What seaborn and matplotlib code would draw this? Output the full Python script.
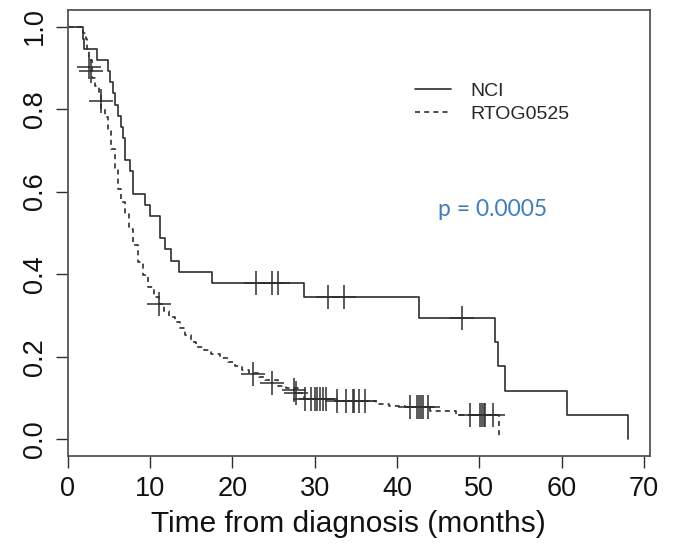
import matplotlib
matplotlib.use("Agg")
import matplotlib.pyplot as plt
import seaborn as sns
import pandas as pd

# Kaplan-Meier steps (time in months, survival)
nci_time = [0, 1.8, 2.0, 3.5, 4.85, 5.15, 5.5, 5.8, 6.15, 6.45, 6.75, 6.95, 7.55, 7.95,
            9.4, 10.0, 11.2, 11.8, 12.6, 13.55, 17.5, 28.7, 42.7, 51.9, 52.2, 53.1, 60.6, 68.0]
nci_surv = [1.0, 0.971, 0.945, 0.919, 0.892, 0.865, 0.838, 0.811, 0.784, 0.757, 0.730, 0.676, 0.649, 0.595,
            0.568, 0.541, 0.487, 0.460, 0.433, 0.406, 0.378, 0.344, 0.294, 0.236, 0.177, 0.118, 0.059, 0.0]
nci_cens_time = [22.9, 24.8, 25.5, 31.6, 33.5, 47.9]
nci_cens_surv = [0.378, 0.378, 0.378, 0.344, 0.344, 0.294]

rtog_time = [0, 1.9, 2.2, 2.4, 2.6, 2.9, 3.3, 3.8, 4.1, 4.5, 4.9, 5.3, 5.7, 6.1, 6.5, 6.9, 7.4,
             7.9, 8.5, 9.1, 9.8, 10.5, 11.1, 11.7, 12.3, 13.0, 13.6, 14.3, 15.0, 15.6, 16.5,
             17.4, 18.5, 19.5, 20.3, 21.2, 22.0, 23.2, 24.0, 25.5, 26.5, 28.0, 28.4, 28.7,
             32.2, 37.5, 39.0, 41.0, 44.0, 47.2, 52.4]
rtog_surv = [1.0, 0.985, 0.97, 0.945, 0.92, 0.875, 0.855, 0.84, 0.80, 0.78, 0.748, 0.704, 0.656,
             0.607, 0.575, 0.545, 0.51, 0.47, 0.43, 0.397, 0.37, 0.345, 0.328, 0.31, 0.295, 0.283,
             0.27, 0.252, 0.235, 0.223, 0.215, 0.207, 0.197, 0.187, 0.178, 0.167, 0.16, 0.15,
             0.143, 0.13, 0.124, 0.112, 0.104, 0.097, 0.092, 0.085, 0.08, 0.078, 0.068, 0.059, 0.0]
rtog_cens_time = [2.6, 2.8, 4.0, 11.1, 22.5, 24.8, 27.5, 27.7,
                  28.8, 29.6, 30.0, 30.3, 30.6, 31.0, 31.4,
                  32.7, 33.75, 34.6, 34.8, 35.4, 36.1,
                  41.6, 42.4, 42.7, 42.9, 43.2, 43.8,
                  48.8, 50.1, 50.3, 50.5, 50.7, 51.7]
rtog_cens_surv = [0.901, 0.893, 0.82, 0.328, 0.157, 0.135, 0.12, 0.112,
                  0.097, 0.097, 0.097, 0.097, 0.097, 0.097, 0.097,
                  0.092, 0.092, 0.092, 0.092, 0.092, 0.092,
                  0.078, 0.078, 0.078, 0.078, 0.078, 0.078,
                  0.059, 0.059, 0.059, 0.059, 0.059, 0.059]

x_ticks = [0, 10, 20, 30, 40, 50, 60, 70]
y_ticks = [0.0, 0.2, 0.4, 0.6, 0.8, 1.0]

sns.set_style("white")
plt.rcParams['font.family'] = ['Liberation Sans', 'DejaVu Sans']

ink = "#2e2e2e"
fig = plt.figure(figsize=(6.75, 5.48), dpi=100)
ax = fig.add_axes([0.1003, 0.1684, 0.8627, 0.8133])

nci = pd.DataFrame({"time": nci_time, "surv": nci_surv})
rtog = pd.DataFrame({"time": rtog_time, "surv": rtog_surv})

sns.lineplot(data=nci, x="time", y="surv", drawstyle="steps-post", color=ink,
             linewidth=1.2, estimator=None, sort=False, ax=ax, label="NCI")
sns.lineplot(data=rtog, x="time", y="surv", drawstyle="steps-post", color=ink,
             linewidth=1.2, linestyle=(0, (3, 2.5)), estimator=None, sort=False, ax=ax,
             label="RTOG0525")

# censoring marks
sns.scatterplot(x=nci_cens_time, y=nci_cens_surv, marker="+", s=280, color=ink,
                linewidth=1.1, ax=ax, legend=False)
sns.scatterplot(x=rtog_cens_time, y=rtog_cens_surv, marker="+", s=280, color=ink,
                linewidth=1.1, ax=ax, legend=False)

ax.set_xlim(0, 70.72)
ax.set_ylim(-0.04, 1.04)
ax.set_xticks(x_ticks)
ax.set_yticks(y_ticks)
ax.set_yticklabels([f"{v:.1f}" for v in y_ticks], rotation=90, va="center")
ax.tick_params(axis="both", direction="out", length=8.5, width=1.0, color=ink,
               labelsize=19.5, labelcolor="#111111", pad=6, left=True, bottom=True)
ax.set_xlabel("Time from diagnosis (months)", fontsize=21.5, color="#111111", labelpad=6)
ax.xaxis.label.set_x(0.482)
ax.set_ylabel("")
for sp in ax.spines.values():
    sp.set_color("#555555")
    sp.set_linewidth(1.3)

lines = ax.get_lines()[:2]
ax.legend(handles=lines, labels=["NCI", "RTOG0525"], frameon=False, fontsize=14,
          loc="upper left", bbox_to_anchor=(415 / 675, 1 - 82 / 548),
          bbox_transform=fig.transFigure, borderpad=0, borderaxespad=0,
          handlelength=1.85, handletextpad=1.0, labelspacing=0.3)

ax.text(493, 548 - 210, "p = 0.0005", transform=None, fontsize=16.5, color="#3F7CC0",
        family=["Lato", "DejaVu Sans"], ha="center", va="center")

fig.savefig("out.png", dpi=100)
